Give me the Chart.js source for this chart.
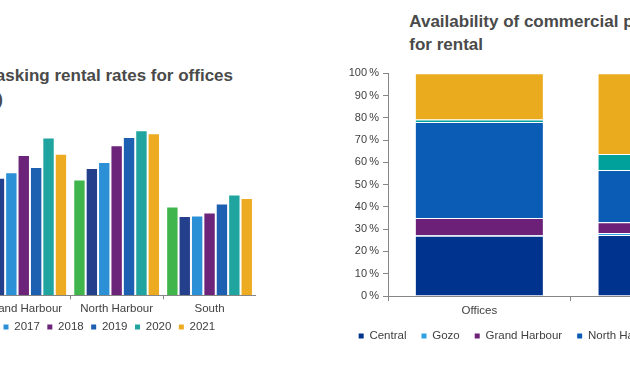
<!DOCTYPE html>
<html><head><meta charset="utf-8">
<script src="https://cdn.jsdelivr.net/npm/chart.js@4"></script>
<style>
html,body{margin:0;padding:0;background:#fff;}
#stage{position:relative;width:630px;height:380px;overflow:hidden;background:#fff;font-family:"Liberation Sans",Arial,sans-serif;}
.title{position:absolute;white-space:nowrap;font-weight:bold;font-size:17px;line-height:23.4px;color:#4a4a4a;}
.box{position:absolute;}
</style></head><body>
<div id="stage">
  <div class="title" style="right:397px;top:64.1px;">Average asking rental rates for offices</div>
  <div class="title" style="right:627px;top:87.5px;">(EUR per sq m)</div>
  <div class="title" style="left:409.3px;top:9.7px;">Availability of commercial property<br>for rental</div>
  <div class="box" style="left:-125px;top:0;width:381px;height:343px;"><canvas id="c1"></canvas></div>
  <div class="box" style="left:330px;top:0;width:467px;height:352px;"><canvas id="c2"></canvas></div>
</div>
<script>
// ---- Left chart: asking rental rates for offices ----
const rentCategories = ['Grand Harbour', 'North Harbour', 'South'];
const rentYears = ['2015', '2016', '2017', '2018', '2019', '2020', '2021'];
const rent2015 = [190, 193, 148];
const rent2016 = [196, 212, 132];
const rent2017 = [205, 222, 133];
const rent2018 = [234, 250, 138];
const rent2019 = [214, 264, 153];
const rent2020 = [263, 275, 168];
const rent2021 = [236, 270, 162];
const rentColors = ['#3fb54b', '#243f8c', '#2b90d6', '#6b2479', '#1d5fb0', '#1fa4a0', '#ecab20'];

// ---- Right chart: availability of commercial property for rental (%) ----
const availCategories = ['Offices', 'Retail'];
const availRegions = ['Central', 'Gozo', 'Grand Harbour', 'North Harbour', 'South', 'West'];
const availCentral = [27.0, 27.4];
const availGozo = [0.3, 0.9];
const availGrandHarbour = [7.7, 4.8];
const availNorthHarbour = [43.1, 23.5];
const availSouth = [1.2, 7.2];
const availWest = [20.7, 36.2];
const availColors = ['#00338d', '#2ea3e0', '#6c2077', '#0b5cb5', '#00a19a', '#eaab1f'];
const yTicks = [0, 10, 20, 30, 40, 50, 60, 70, 80, 90, 100];

const FONT = '"Liberation Sans", Arial, sans-serif';
const TXT = '#404040';
const AX = '#868686';
const noBorderLabels = (chart) =>
  Chart.defaults.plugins.legend.labels.generateLabels(chart).map(l => Object.assign(l, {lineWidth: 0}));
const spacerAxis = (pos, w) => ({
  type: 'linear', position: pos, display: true,
  grid: {display: false}, border: {display: false}, ticks: {display: false},
  afterFit: s => { s.width = w; }
});

const rentSeries = [rent2015, rent2016, rent2017, rent2018, rent2019, rent2020, rent2021];
new Chart(document.getElementById('c1'), {
  type: 'bar',
  data: {
    labels: rentCategories,
    datasets: rentYears.map((y, i) => ({
      label: y, data: rentSeries[i], backgroundColor: rentColors[i],
      borderColor: 'rgba(255,255,255,0.7)', borderWidth: 1, borderSkipped: 'bottom',
      categoryPercentage: 0.934, barPercentage: 1
    }))
  },
  options: {
    responsive: true, maintainAspectRatio: false, animation: false,
    layout: {padding: {left: 0, right: 0, top: 115.3, bottom: 0.25}},
    scales: {
      x: {
        grid: {display: true, drawOnChartArea: false, drawTicks: true, tickLength: 4, color: AX, offset: true},
        border: {display: true, color: AX, width: 1},
        ticks: {color: TXT, font: {family: FONT, size: 11.5}, padding: 3, maxRotation: 0, autoSkip: false},
        afterFit: s => { s.height = 18.45; }
      },
      y: Object.assign(spacerAxis('left', 102.3), {min: 0, max: 300})
    },
    plugins: {
      legend: {position: 'bottom', labels: {boxWidth: 5, boxHeight: 5, padding: 7.5, color: TXT,
        font: {family: FONT, size: 11.5}, generateLabels: noBorderLabels}},
      tooltip: {enabled: false}
    }
  }
});

const availSeries = [availCentral, availGozo, availGrandHarbour, availNorthHarbour, availSouth, availWest];
new Chart(document.getElementById('c2'), {
  type: 'bar',
  data: {
    labels: availCategories,
    datasets: availRegions.map((r, i) => ({
      label: r, data: availSeries[i], backgroundColor: availColors[i],
      borderColor: 'rgba(255,255,255,0.6)', borderWidth: 1, borderSkipped: 'bottom',
      categoryPercentage: 0.706, barPercentage: 1, yAxisID: 'y'
    }))
  },
  options: {
    responsive: true, maintainAspectRatio: false, animation: false,
    layout: {padding: {left: 0, right: 0, top: 73.3, bottom: 0.25}},
    scales: {
      x: {
        stacked: true,
        grid: {display: true, drawOnChartArea: false, drawTicks: true, tickLength: 5, color: AX, offset: true},
        border: {display: true, color: AX, width: 1},
        ticks: {color: TXT, font: {family: FONT, size: 11.5}, padding: 3, maxRotation: 0},
        afterFit: s => { s.height = 19.25; }
      },
      y: {
        stacked: true, min: 0, max: 100, position: 'left',
        afterBuildTicks: s => { s.ticks = yTicks.map(v => ({value: v})); },
        grid: {display: true, drawOnChartArea: false, drawTicks: true, tickLength: 5, color: AX},
        border: {display: true, color: AX, width: 1},
        ticks: {color: TXT, font: {family: FONT, size: 11}, padding: 4, callback: v => v + '\u2009%'},
        afterFit: s => { s.width = 58; }
      },
      yRight: spacerAxis('right', 43.6)
    },
    plugins: {
      legend: {position: 'bottom', labels: {boxWidth: 5, boxHeight: 5, padding: 15, color: TXT,
        font: {family: FONT, size: 11.5}, generateLabels: noBorderLabels}},
      tooltip: {enabled: false}
    }
  }
});
</script>
</body></html>
